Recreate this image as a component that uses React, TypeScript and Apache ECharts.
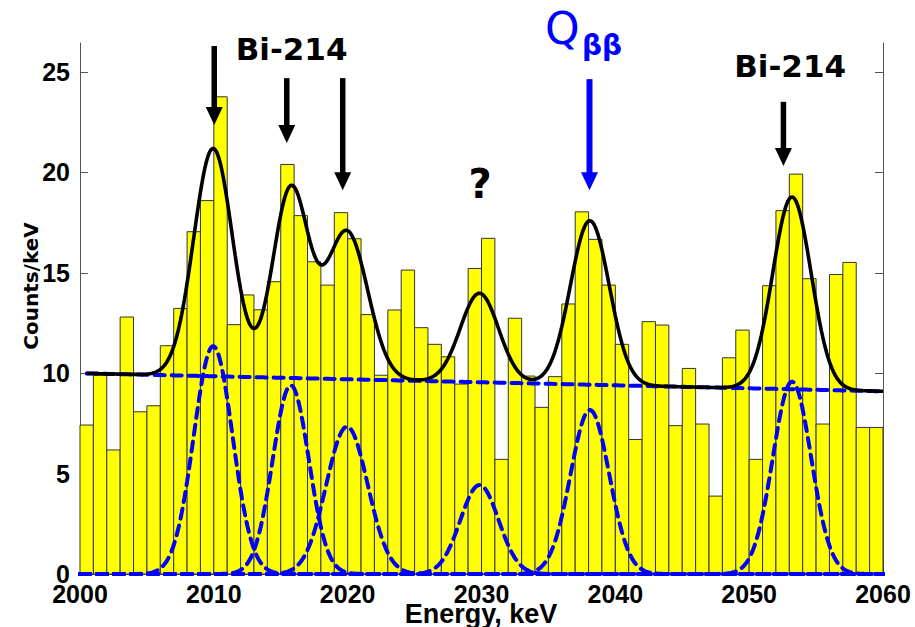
import React, { useEffect, useRef } from "react";
import * as echarts from "echarts";

// Histogram: 1 keV bins from 2000 to 2060 keV
const binStart = 2000;
const binWidth = 1;
const counts = [
  7.42, 9.9, 6.18, 12.8, 8.08, 8.38, 11.37, 13.23, 17.05, 18.6,
  23.77, 12.42, 13.9, 13.16, 14.56, 20.4, 17.85, 15.55, 14.39, 18.0,
  16.7, 12.92, 9.9, 13.15, 15.14, 12.27, 11.44, 10.82, 9.46, 15.22,
  16.72, 5.71, 12.74, 9.86, 8.3, 9.83, 13.45, 18.04, 16.67, 14.39,
  11.44, 6.7, 12.57, 12.4, 7.39, 10.24, 7.47, 3.88, 10.77, 12.15,
  5.71, 14.36, 18.1, 19.92, 14.71, 7.47, 14.92, 15.52, 7.3, 7.3,
];

// Fitted model: six Gaussian lines on a linear background
const peakCenters = [2009.95, 2015.75, 2019.95, 2029.85, 2038.1, 2053.2];
const peakAmplitudes = [11.35, 9.4, 7.34, 4.43, 8.17, 9.58];
const peakSigmas = [1.45, 1.35, 1.55, 1.43, 1.45, 1.43];
const backgroundStart = 10.0; // counts/keV at 2000 keV
const backgroundEnd = 9.1; // counts/keV at 2060 keV
const fitFrom = 2000.5;
const fitTo = 2060;

// Axes
const xMin = 2000;
const xMax = 2060;
const xStep = 10;
const yMin = 0;
const yMax = 26.45;
const yTicks = [0, 5, 10, 15, 20, 25];

// Arrows marking the lines (energy, top, tip in counts/keV)
const arrowEnergy = [2010.03, 2015.45, 2019.63, 2038.07, 2052.56];
const arrowTop = [26.3, 24.7, 24.7, 24.65, 23.52];
const arrowTip = [22.36, 21.47, 19.12, 19.12, 20.32];
const arrowColor = ["#000000", "#000000", "#000000", "#0000ff", "#000000"];

// Text annotations (energy, counts/keV)
const labelTexts = ["Bi-214", "Bi-214", "?"];
const labelEnergy = [2015.81, 2053.06, 2029.9];
const labelCounts = [26.16, 25.31, 19.41];
const labelSizes = [31, 31, 40];

const qEnergy = 2034.75;
const qCounts = 27.15;
const qSubEnergy = 2037.5;
const qSubCounts = 26.35;

const background = (e: number) =>
  backgroundStart + ((backgroundEnd - backgroundStart) * (e - xMin)) / (xMax - xMin);
const gauss = (k: number, e: number) =>
  peakAmplitudes[k] * Math.exp(-((e - peakCenters[k]) ** 2) / (2 * peakSigmas[k] ** 2));

const sample = (from: number, to: number, step: number) => {
  const out: number[] = [];
  for (let e = from; e <= to + 1e-9; e += step) out.push(Math.round(e * 1000) / 1000);
  return out;
};

const NARROW = '"Liberation Sans Narrow", "Arial Narrow", "Liberation Sans", Arial, sans-serif';
const DEJAVU = '"DejaVu Sans", sans-serif';

export default function App() {
  const ref = useRef<HTMLDivElement>(null);

  useEffect(() => {
    if (!ref.current) return;
    const chart = echarts.init(ref.current, undefined, { renderer: "svg" });

    const fine = sample(fitFrom, fitTo, 0.1);
    const full = sample(xMin, xMax, 0.1);
    const fitData = fine.map((e) => {
      let v = background(e);
      for (let k = 0; k < peakCenters.length; k++) v += gauss(k, e);
      return [e, v];
    });
    const bgData = fine.map((e) => [e, background(e)]);

    const dashed = { color: "#0000ff", width: 4, type: [10, 7] as number[], cap: "round" as const };

    const peakSeries = peakCenters.map((_, k) => ({
      type: "line" as const,
      data: full.map((e) => [e, gauss(k, e)]),
      showSymbol: false,
      symbol: "none",
      lineStyle: dashed,
      z: 3,
      silent: true,
    }));

    const option: any = {
      animation: false,
      grid: { left: 80, right: 32, top: 43, bottom: 53, containLabel: false },
      xAxis: {
        type: "value",
        min: xMin,
        max: xMax,
        interval: xStep,
        axisLine: { show: true, onZero: false, lineStyle: { color: "#444", width: 1 } },
        axisTick: { show: true, inside: true, length: 8, lineStyle: { color: "#444" } },
        splitLine: { show: false },
        axisLabel: {
          color: "#000",
          fontFamily: NARROW,
          fontWeight: "bold",
          fontSize: 25,
          margin: 7,
          formatter: (v: number) => String(v),
        },
      },
      yAxis: [
        {
          type: "value",
          position: "left",
          min: yMin,
          max: yMax,
          axisLine: { show: true, lineStyle: { color: "#555", width: 1 } },
          axisTick: { show: true, inside: true, length: 8, customValues: yTicks, lineStyle: { color: "#555" } },
          splitLine: { show: false },
          axisLabel: {
            customValues: yTicks,
            color: "#000",
            fontFamily: NARROW,
            fontWeight: "bold",
            fontSize: 25,
            margin: 10,
          },
        },
        {
          type: "value",
          position: "right",
          min: yMin,
          max: yMax,
          axisLine: { show: true, lineStyle: { color: "#555", width: 1 } },
          axisTick: { show: true, inside: true, length: 8, customValues: yTicks, lineStyle: { color: "#555" } },
          splitLine: { show: false },
          axisLabel: { show: false },
        },
      ],
      series: [
        {
          type: "custom",
          z: 1,
          silent: true,
          encode: { x: [0, 1], y: 2 },
          data: counts.map((c, i) => [binStart + i * binWidth, binStart + (i + 1) * binWidth, c]),
          renderItem: (_params: any, api: any) => {
            const p0 = api.coord([api.value(0), api.value(2)]);
            const p1 = api.coord([api.value(1), 0]);
            return {
              type: "rect",
              shape: { x: p0[0], y: p0[1], width: p1[0] - p0[0], height: p1[1] - p0[1] },
              style: { fill: "#ffff00", stroke: "#333333", lineWidth: 1 },
            };
          },
        },
        {
          type: "line",
          data: bgData,
          showSymbol: false,
          symbol: "none",
          lineStyle: dashed,
          z: 3,
          silent: true,
        },
        ...peakSeries,
        {
          type: "line",
          data: fitData,
          showSymbol: false,
          symbol: "none",
          lineStyle: { color: "#000", width: 3.6 },
          z: 4,
          silent: true,
        },
        {
          type: "custom",
          z: 5,
          silent: true,
          clip: false,
          encode: { x: 0, y: [1, 2] },
          data: arrowEnergy.map((e, i) => [e, arrowTop[i], arrowTip[i], i]),
          renderItem: (_params: any, api: any) => {
            const top = api.coord([api.value(0), api.value(1)]);
            const tip = api.coord([api.value(0), api.value(2)]);
            const color = arrowColor[api.value(3)];
            const headLen = 18;
            const half = 8.5;
            const shaft = color === "#0000ff" ? 6 : 5.5;
            return {
              type: "group",
              children: [
                {
                  type: "rect",
                  shape: { x: top[0] - shaft / 2, y: top[1], width: shaft, height: tip[1] - top[1] - headLen + 1 },
                  style: { fill: color },
                },
                {
                  type: "polygon",
                  shape: {
                    points: [
                      [tip[0] - half, tip[1] - headLen],
                      [tip[0] + half, tip[1] - headLen],
                      [tip[0], tip[1]],
                    ],
                  },
                  style: { fill: color },
                },
              ],
            };
          },
        },
        {
          type: "custom",
          z: 5,
          silent: true,
          clip: false,
          encode: { x: 0, y: 1 },
          data: labelEnergy.map((e, i) => [e, labelCounts[i], i]),
          renderItem: (_params: any, api: any) => {
            const i = api.value(2);
            const p = api.coord([api.value(0), api.value(1)]);
            return {
              type: "text",
              x: p[0],
              y: p[1],
              style: {
                text: labelTexts[i],
                fill: "#000",
                fontFamily: DEJAVU,
                fontWeight: "bold",
                fontSize: labelSizes[i],
                align: "center",
                verticalAlign: "middle",
              },
            };
          },
        },
        {
          type: "custom",
          z: 5,
          silent: true,
          clip: false,
          encode: { x: 0, y: 1 },
          data: [
            [qEnergy, qCounts, 0],
            [qSubEnergy, qSubCounts, 1],
          ],
          renderItem: (_params: any, api: any) => {
            const sub = api.value(2) === 1;
            const p = api.coord([api.value(0), api.value(1)]);
            return {
              type: "text",
              x: p[0],
              y: p[1],
              style: {
                text: sub ? "ββ" : "Q",
                fill: "#0000ff",
                fontFamily: DEJAVU,
                fontWeight: sub ? "bold" : "normal",
                fontSize: sub ? 28 : 44,
                align: "left",
                verticalAlign: "middle",
              },
            };
          },
        },
      ],
      graphic: [
        {
          type: "text",
          x: 31,
          y: 286,
          rotation: Math.PI / 2,
          style: {
            text: "Counts/keV",
            fill: "#000",
            fontFamily: DEJAVU,
            fontWeight: "bold",
            fontSize: 20,
            align: "center",
            verticalAlign: "middle",
          },
        },
        {
          type: "text",
          x: 481,
          y: 614,
          style: {
            text: "Energy, keV",
            fill: "#000",
            fontFamily: NARROW,
            fontWeight: "bold",
            fontSize: 27,
            align: "center",
            verticalAlign: "middle",
          },
        },
      ],
    };

    chart.setOption(option);
    return () => chart.dispose();
  }, []);

  return (
    <div
      ref={ref}
      style={{ position: "fixed", left: 0, top: 0, width: 915, height: 627, background: "#fff" }}
    />
  );
}
